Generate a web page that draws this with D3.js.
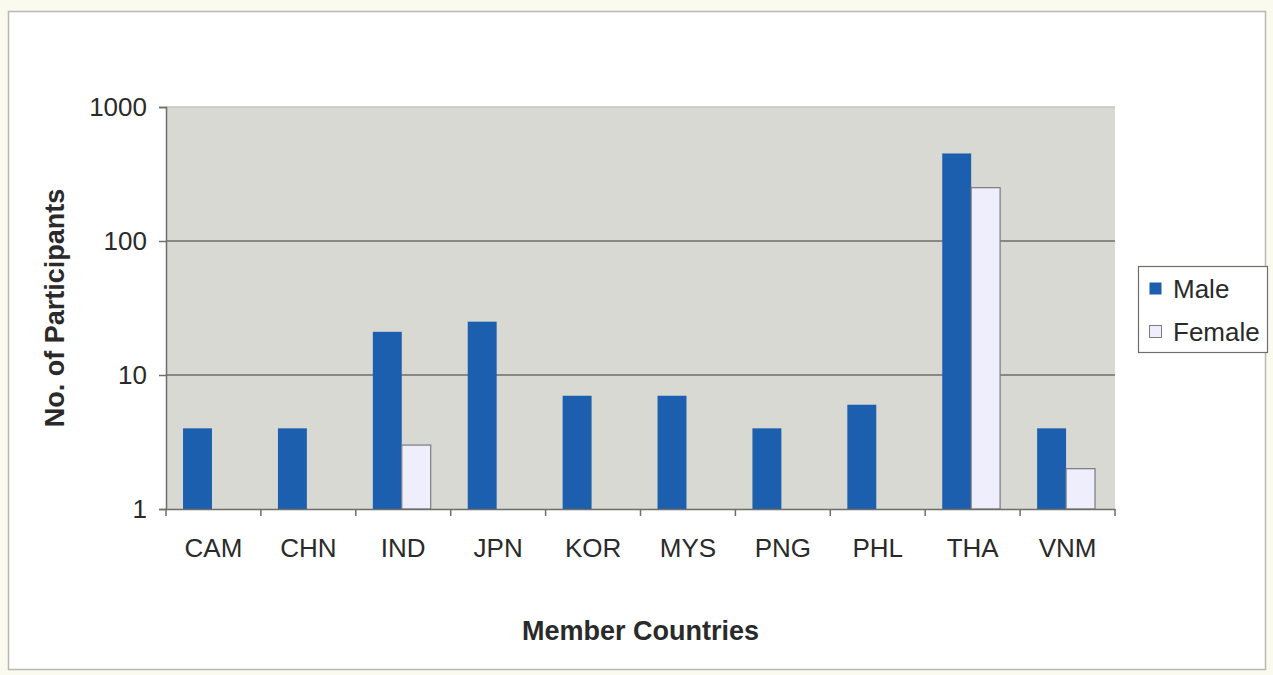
<!DOCTYPE html>
<html>
<head>
<meta charset="utf-8">
<script src="https://cdn.jsdelivr.net/npm/d3@7/dist/d3.min.js"></script>
<style>
  html, body { margin: 0; padding: 0; background: #fbfaee; }
  svg { display: block; }
  text { font-family: "Liberation Sans", Arial, sans-serif; fill: #2a2a2a; }
</style>
</head>
<body>
<script>
const categories = ["CAM", "CHN", "IND", "JPN", "KOR", "MYS", "PNG", "PHL", "THA", "VNM"];
const seriesNames = ["Male", "Female"];
const maleValues = [4, 4, 21, 25, 7, 7, 4, 6, 450, 4];
const femaleValues = [null, null, 3, null, null, null, null, null, 250, 2];
const yTicks = [1, 10, 100, 1000];

const W = 1273, H = 675;
const colors = { Male: "#1b5fae", Female: "#eeeefc" };

const svg = d3.select("body").append("svg").attr("width", W).attr("height", H);

// outer chart frame
svg.append("rect").attr("x", 8.5).attr("y", 11.5).attr("width", 1257).attr("height", 658)
  .attr("fill", "#ffffff").attr("stroke", "#b8b8b0").attr("stroke-width", 1.5);

const plot = { left: 166, right: 1115, top: 107, bottom: 509 };

const x = d3.scaleBand().domain(categories).range([plot.left, plot.right]).padding(0);
const x1 = d3.scaleBand().domain(seriesNames).range([0, x.bandwidth()])
  .paddingInner(0).paddingOuter(0.64).align(0.46);
const y = d3.scaleLog().domain([1, 1000]).range([plot.bottom, plot.top]);

// plot background
svg.append("rect").attr("x", plot.left).attr("y", plot.top)
  .attr("width", plot.right - plot.left).attr("height", plot.bottom - plot.top)
  .attr("fill", "#d8d9d3");

// gridlines
svg.append("g").selectAll("line").data(yTicks.filter(t => t > 1)).join("line")
  .attr("x1", plot.left).attr("x2", plot.right)
  .attr("y1", d => y(d)).attr("y2", d => y(d))
  .attr("stroke", d => d === 1000 ? "#c4c5c0" : "#6e6e6a").attr("stroke-width", 1.5);

// bars
const data = [];
categories.forEach((c, i) => {
  data.push({ c, s: "Male", v: maleValues[i] });
  if (femaleValues[i] != null) data.push({ c, s: "Female", v: femaleValues[i] });
});
svg.append("g").selectAll("rect").data(data).join("rect")
  .attr("x", d => x(d.c) + x1(d.s))
  .attr("width", x1.bandwidth())
  .attr("y", d => y(d.v))
  .attr("height", d => y(1) - y(d.v))
  .attr("fill", d => colors[d.s])
  .attr("stroke", d => d.s === "Female" ? "#7a7a80" : "none")
  .attr("stroke-width", 1.2);

// y axis
const yAxis = d3.axisLeft(y).tickValues(yTicks).tickFormat(d3.format("d")).tickSize(7).tickPadding(12);
const gy = svg.append("g").attr("transform", `translate(${plot.left},0)`).call(yAxis);
gy.select(".domain").attr("stroke", "#6e6e6a").attr("stroke-width", 1.5);
gy.selectAll(".tick line").attr("stroke", "#6e6e6a").attr("stroke-width", 1.5);
gy.selectAll(".tick text").style("font-size", "26px").attr("fill", "#2a2a2a")
  .style("font-family", '"Liberation Sans", Arial, sans-serif');

// x axis
const xAxis = d3.axisBottom(x).tickSize(0).tickPadding(30);
const gx = svg.append("g").attr("transform", `translate(0,${plot.bottom})`).call(xAxis);
gx.select(".domain").attr("stroke", "#6e6e6a").attr("stroke-width", 1.5);
gx.selectAll(".tick text").style("font-size", "26px").attr("fill", "#2a2a2a")
  .style("font-family", '"Liberation Sans", Arial, sans-serif');
// category boundary tick marks
const bounds = categories.map(c => x(c)).concat([plot.right]);
svg.append("g").selectAll("line").data(bounds).join("line")
  .attr("x1", d => d).attr("x2", d => d)
  .attr("y1", plot.bottom).attr("y2", plot.bottom + 7)
  .attr("stroke", "#6e6e6a").attr("stroke-width", 1.5);

// axis titles
svg.append("text").attr("x", (plot.left + plot.right) / 2 + 0).attr("y", 640)
  .attr("text-anchor", "middle").style("font-size", "27px").style("font-weight", "bold")
  .text("Member Countries");
svg.append("text").attr("transform", `translate(64,${(plot.top + plot.bottom) / 2}) rotate(-90)`)
  .attr("text-anchor", "middle").style("font-size", "27px").style("font-weight", "bold")
  .text("No. of Participants");

// legend
const lg = svg.append("g");
lg.append("rect").attr("x", 1138.5).attr("y", 266.5).attr("width", 129).attr("height", 86)
  .attr("fill", "#ffffff").attr("stroke", "#6e6e6a").attr("stroke-width", 1.2);
seriesNames.forEach((s, i) => {
  const cy = 289 + i * 43;
  lg.append("rect").attr("x", 1149.5).attr("y", cy - 6.5).attr("width", 12).attr("height", 12)
    .attr("fill", colors[s]).attr("stroke", s === "Female" ? "#7a7a80" : "none").attr("stroke-width", 1);
  lg.append("text").attr("x", 1173).attr("y", cy + 9).style("font-size", "26px").text(s);
});
</script>
</body>
</html>
